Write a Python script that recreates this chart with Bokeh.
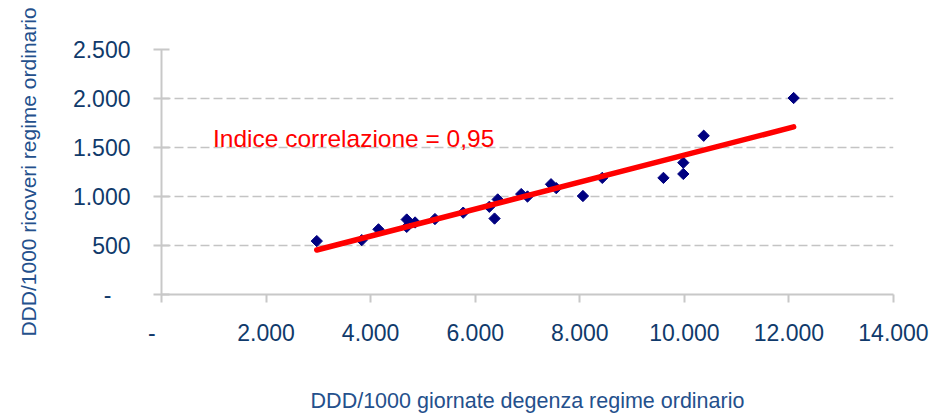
import numpy as np
from bokeh.plotting import figure
from bokeh.models import FixedTicker, Range1d, Label, ColumnDataSource
from bokeh.embed import file_html
from bokeh.resources import INLINE

# ---- data ----
ddd_giornate = [2970, 3830, 4150, 4690, 4690, 4850, 5230, 5770, 6270, 6430, 6370,
                6880, 7000, 7450, 7550, 8060, 8430, 9600, 9980, 9980, 10370, 12090]
ddd_ricoveri = [545, 555, 665, 765, 690, 735, 770, 835, 895, 970, 775,
                1025, 1000, 1125, 1085, 1005, 1190, 1190, 1345, 1230, 1620, 2005]

x_ticks = [0, 2000, 4000, 6000, 8000, 10000, 12000, 14000]
x_tick_labels = ["-", "2.000", "4.000", "6.000", "8.000", "10.000", "12.000", "14.000"]
y_ticks = [0, 500, 1000, 1500, 2000, 2500]
y_tick_labels = ["-", "500", "1.000", "1.500", "2.000", "2.500"]

annotation_text = "Indice correlazione = 0,95"
x_title = "DDD/1000 giornate degenza regime ordinario"
y_title = "DDD/1000 ricoveri regime ordinario"

# ---- linear trend computed from the data ----
slope, intercept = np.polyfit(ddd_giornate, ddd_ricoveri, 1)
trend_x = [min(ddd_giornate), max(ddd_giornate)]
trend_y = [slope * v + intercept for v in trend_x]

FONT = "Liberation Sans"
TICK_COLOR = "#103A6B"
TITLE_COLOR = "#24508C"
NB = "\u00a0"

p = figure(width=932, height=415, output_backend="svg", toolbar_location=None,
           x_range=Range1d(0, 14000), y_range=Range1d(0, 2500),
           min_border_left=161, min_border_right=39,
           min_border_top=49, min_border_bottom=121)
p.outline_line_color = None
p.background_fill_color = "white"
p.border_fill_color = "white"

# grid
p.xgrid.grid_line_color = None
p.ygrid.ticker = FixedTicker(ticks=y_ticks)
p.ygrid.grid_line_color = "#C4C4C4"
p.ygrid.grid_line_width = 1.5
p.ygrid.grid_line_dash = "9 4"

# x axis
xa = p.xaxis[0]
xa.ticker = FixedTicker(ticks=x_ticks)
xa.major_label_overrides = {t: (l + NB * 3 if l == "-" else l) for t, l in zip(x_ticks, x_tick_labels)}
xa.axis_line_color = "#C8C8C8"
xa.axis_line_width = 2
xa.major_tick_line_color = "#C8C8C8"
xa.major_tick_line_width = 2
xa.major_tick_out = 8
xa.major_tick_in = 0
xa.minor_tick_line_color = None
xa.major_label_standoff = 17
xa.major_label_text_font = FONT
xa.major_label_text_font_size = "23px"
xa.major_label_text_color = TICK_COLOR
xa.axis_label = x_title
xa.axis_label_text_font = FONT
xa.axis_label_text_font_size = "21.5px"
xa.axis_label_text_font_style = "normal"
xa.axis_label_text_color = TITLE_COLOR
xa.axis_label_standoff = 40

# y axis
ya = p.yaxis[0]
ya.ticker = FixedTicker(ticks=y_ticks)
ya.major_label_overrides = {t: (l + NB * 3 if l == "-" else l) for t, l in zip(y_ticks, y_tick_labels)}
ya.axis_line_color = "#C8C8C8"
ya.axis_line_width = 2
ya.major_tick_line_color = "#C8C8C8"
ya.major_tick_line_width = 2
ya.major_tick_out = 8
ya.major_tick_in = 8
ya.minor_tick_line_color = None
ya.major_label_standoff = 23
ya.major_label_text_font = FONT
ya.major_label_text_font_size = "23px"
ya.major_label_text_color = TICK_COLOR
ya.axis_label = y_title
ya.axis_label_text_font = FONT
ya.axis_label_text_font_size = "21px"
ya.axis_label_text_font_style = "normal"
ya.axis_label_text_color = TITLE_COLOR
ya.axis_label_standoff = 30

src = ColumnDataSource(dict(x=ddd_giornate, y=ddd_ricoveri))
p.scatter("x", "y", source=src, marker="square", size=8, angle=np.pi / 4,
          fill_color="#000080", line_color="#000080")

p.line(trend_x, trend_y, line_color="#FF0000", line_width=5.5, line_cap="round")

p.add_layout(Label(x=986, y=1588, text=annotation_text, text_font=FONT,
                   text_font_size="24.5px", text_color="#FF0000",
                   text_baseline="alphabetic", text_align="left"))

open("out.html", "w").write(file_html(p, INLINE))
